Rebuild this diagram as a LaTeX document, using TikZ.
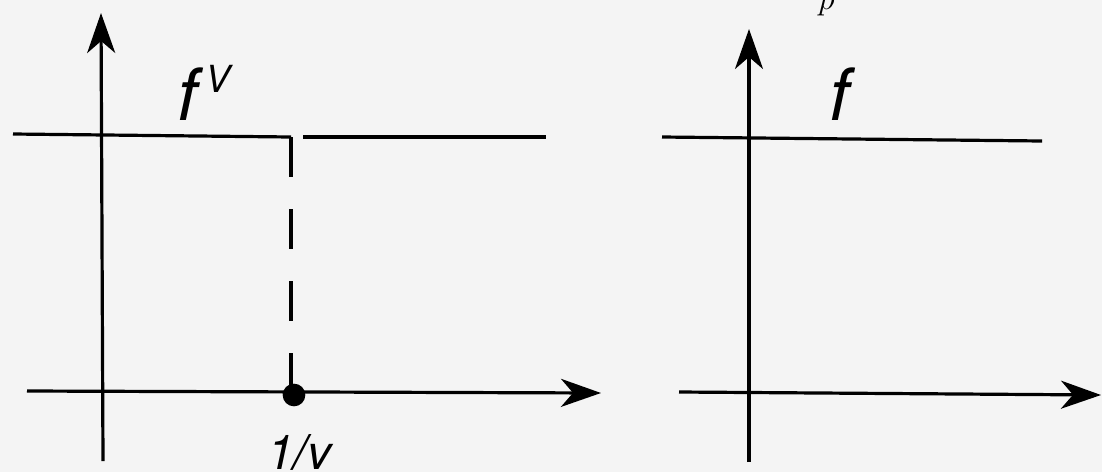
\documentclass[tikz,border=0pt]{standalone}
\usepackage{fontspec}
\setsansfont{TeX Gyre Heros}
\usetikzlibrary{arrows.meta}
\begin{document}
\begin{tikzpicture}[x=0.75pt,y=-0.75pt,
  ax/.style={line width=2.4pt,-{Stealth[length=30pt,width=21pt,inset=9pt]}},
  ln/.style={line width=2.4pt},
  dsh/.style={line width=2.4pt,dash pattern=on 30pt off 24pt},
  lbl/.style={font=\sffamily\itshape,inner sep=0pt,anchor=base west},
  topfrag/.style={inner sep=0pt,anchor=base west,font=\fontsize{45}{45}\selectfont}]
\fill[black!4.5] (0,0) rectangle (1102,472);
\useasboundingbox (0,0) rectangle (1102,472);
% clipped top text
\begin{scope}
\clip (0,0) rectangle (1102,472);
\node[topfrag] (t1) at (172,-9) {$f$};
\node[topfrag] (t2) at (245,-9) {$(x/V)$};
\node[topfrag] (t3) at (688,-9) {$,$};
\node[topfrag,font=\fontsize{38}{38}\selectfont] (t4) at (818,9) {$p$};
\node[topfrag] (t5) at (912,-9) {$,$};
\end{scope}
% left plot
\coordinate (lvb) at (103,461);
\coordinate (lvt) at (101,13);
\coordinate (lhl) at (27,391);
\coordinate (lhr) at (601,393);
\coordinate (tl1) at (13,134);
\coordinate (tl2) at (291,137);
\coordinate (dl) at (291,395);
\coordinate (tr1) at (303,137);
\coordinate (tr2) at (546,137);
\draw[ax] (lvb) -- (lvt);
\draw[ax] (lhl) -- (lhr);
\draw[ln] (tl1) -- (tl2);
\draw[dsh] (tl2) -- (dl);
\draw[ln] (tr1) -- (tr2);
\fill (294,395) circle[radius=8.5pt];
\node[lbl,font=\sffamily\itshape\fontsize{54}{54}\selectfont] (fV) at (177,120) {f\hspace{6pt}\raisebox{21pt}{\fontsize{28}{28}\selectfont V}};
\node[lbl,font=\sffamily\itshape\fontsize{36}{36}\selectfont] (ov) at (267,469) {1/v};
% right plot
\coordinate (rvb) at (749,462);
\coordinate (rvt) at (749,29);
\coordinate (rhl) at (679,392);
\coordinate (rhr) at (1101,395);
\coordinate (fl1) at (662,137);
\coordinate (fl2) at (1042,141);
\draw[ax] (rvb) -- (rvt);
\draw[ax] (rhl) -- (rhr);
\draw[ln] (fl1) -- (fl2);
\node[lbl,font=\sffamily\itshape\fontsize{54}{54}\selectfont] (f) at (829,120) {f};
\end{tikzpicture}
\end{document}
